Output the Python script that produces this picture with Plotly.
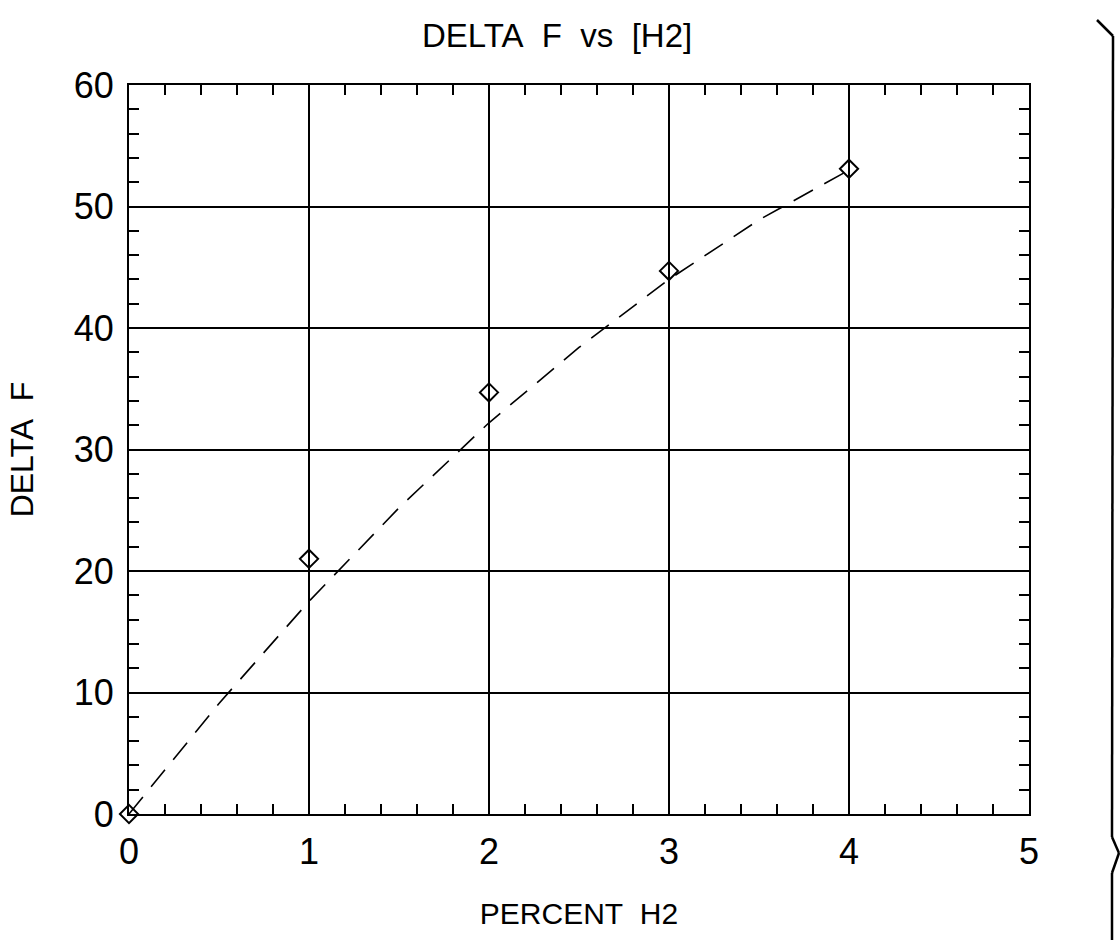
import plotly.graph_objects as go

# Measured data points
pct_h2 = [0, 1, 2, 3, 4]
delta_f = [0, 21.0, 34.7, 44.7, 53.1]

# Dashed fit curve
fit_x = [0, 0.5, 1, 1.5, 2, 2.5, 3, 3.5, 4]
fit_y = [0, 9.1, 17.5, 25.2, 32.2, 38.4, 44.0, 48.9, 53.0]

x_ticks = [0, 1, 2, 3, 4, 5]
y_ticks = [0, 10, 20, 30, 40, 50, 60]

W, H = 1120, 940
L, R, T, B = 129, 1029, 85, 814
FONT = "Liberation Sans, Arial, sans-serif"
NB = "\u00a0"

def px(x):
    return (x - L) / (R - L)

def py(y):
    return (B - y) / (B - T)

fig = go.Figure()
fig.add_trace(go.Scatter(
    x=fit_x, y=fit_y, mode="lines",
    line=dict(color="black", width=1.6, dash="22px,13px"),
    showlegend=False, hoverinfo="skip",
))
fig.add_trace(go.Scatter(
    x=pct_h2, y=delta_f, mode="markers",
    marker=dict(symbol="diamond-open", size=14, color="black",
                line=dict(width=2, color="black")),
    cliponaxis=False, showlegend=False,
))

axis_common = dict(
    showline=True, linecolor="black", linewidth=2.2, mirror="allticks",
    ticks="inside", ticklen=10, tickwidth=2, tickcolor="black",
    showgrid=True, gridcolor="black", gridwidth=1.6,
    zeroline=False,
    tickfont=dict(family=FONT, size=36, color="black"),
)

fig.update_xaxes(
    range=[0, 5], tickvals=x_ticks, ticktext=[str(v) for v in x_ticks],
    minor=dict(dtick=0.2, ticks="inside", ticklen=10, tickwidth=2,
               tickcolor="black", showgrid=False),
    title=dict(text="PERCENT" + NB * 2 + "H2",
               font=dict(family=FONT, size=30, color="black"),
               standoff=32),
    ticklabelstandoff=5,
    **axis_common,
)
fig.update_yaxes(
    range=[0, 60], tickvals=y_ticks, ticktext=[str(v) for v in y_ticks],
    minor=dict(dtick=2, ticks="inside", ticklen=10, tickwidth=2,
               tickcolor="black", showgrid=False),
    title=dict(text="DELTA" + NB * 2 + "F",
               font=dict(family=FONT, size=32, color="black"),
               standoff=30),
    ticklabelstandoff=6,
    **axis_common,
)

# bracket-like border on the right edge of the scanned page
bracket = [
    ((1097, 20), (1113, 36)),
    ((1113, 36), (1112, 837)),
    ((1112, 837), (1119, 853)),
    ((1119, 853), (1112, 873)),
    ((1112, 873), (1112, 940)),
]
shapes = []
for (x0, y0), (x1, y1) in bracket:
    shapes.append(dict(type="line", xref="paper", yref="paper",
                       x0=px(x0), y0=py(y0), x1=px(x1), y1=py(y1),
                       line=dict(color="black", width=2.5)))

fig.update_layout(
    width=W, height=H,
    margin=dict(l=L, r=W - R, t=T, b=H - B, pad=0),
    paper_bgcolor="white", plot_bgcolor="white",
    title=dict(text="DELTA" + NB * 2 + "F" + NB * 2 + "vs" + NB * 2 + "[H2]",
               xref="container", x=422 / W, xanchor="left",
               yref="container", y=1 - 35 / H, yanchor="middle",
               font=dict(family=FONT, size=33, color="black")),
    shapes=shapes,
)

fig.write_html("out.html", config={"displayModeBar": False},
               post_script="document.body.style.margin='0';document.body.style.overflow='hidden';")
